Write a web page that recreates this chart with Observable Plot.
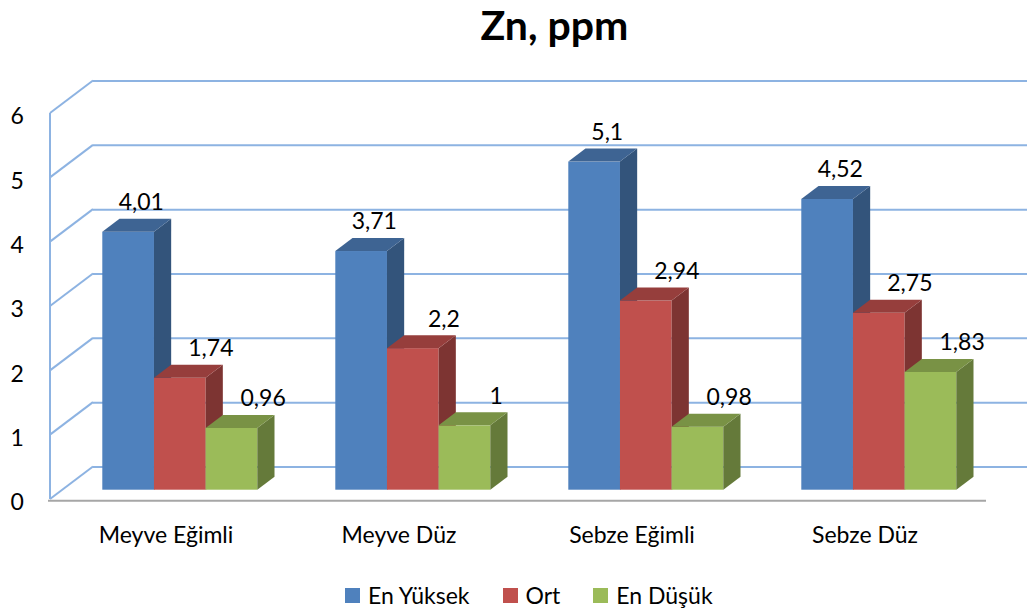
<!DOCTYPE html>
<html>
<head>
<meta charset="utf-8">
<script src="https://cdn.jsdelivr.net/npm/d3@7"></script>
<script src="https://cdn.jsdelivr.net/npm/@observablehq/plot@0.6"></script>
<style>
  html, body { margin: 0; padding: 0; background: #fff; }
  #chart { position: relative; width: 1028px; height: 613px; font-family: Lato, "Open Sans", sans-serif; color: #000; overflow: hidden; }
  #title { position: absolute; left: 0; top: 0; width: 1028px; padding-left: 81px; box-sizing: border-box; text-align: center; font-weight: 700; font-size: 41px; line-height: 50px; }
  #plot { position: absolute; left: 0; top: 62px; }
  #legend { position: absolute; left: 345px; top: 584px; display: flex; align-items: center; font-size: 23px; line-height: 23px; }
  .item { display: flex; align-items: center; margin-right: 33px; }
  .swatch { width: 15px; height: 15px; margin-right: 8px; }
</style>
</head>
<body>
<div id="chart">
  <div id="title">Zn, ppm</div>
  <div id="plot"></div>
  <div id="legend"></div>
</div>
<script>
// Zn (ppm) by field type: highest, mean and lowest values
const categories = ["Meyve Eğimli", "Meyve Düz", "Sebze Eğimli", "Sebze Düz"];
const series = ["En Yüksek", "Ort", "En Düşük"];
const enYuksek = [4.01, 3.71, 5.1, 4.52];
const ort = [1.74, 2.2, 2.94, 2.75];
const enDusuk = [0.96, 1, 0.98, 1.83];
const yTicks = [0, 1, 2, 3, 4, 5, 6];

const palette = ["#4F81BD", "#C0504D", "#9BBB59"];
const gridColor = "#8DB3E2";

const rows = [];
[enYuksek, ort, enDusuk].forEach((vals, j) =>
  vals.forEach((v, i) => rows.push({category: categories[i], series: series[j], j, value: v}))
);

const fmt = v => String(v).replace(".", ",");

// layout
const width = 1028, height = 490;
const marginLeft = 50, marginRight = 44, marginTop = 51, marginBottom = 53;
const paddingInner = 0.334, paddingOuter = 0.167;
const step = (width - marginLeft - marginRight) / (categories.length - paddingInner + 2 * paddingOuter);
const barWidth = step * (1 - paddingInner) / series.length;

// oblique projection offsets (pixels)
const wall = {dx: 43, dy: -32.5};   // depth of the back wall
const front = {dx: 12.3, dy: -9.3}; // front plane of the bars
const depth = {dx: 17.2, dy: -13};  // thickness of each bar
const labelShift = [12.8, 30.6, 31];

// draws each bar as a box: front face, right side and top
function boxes(index, scales, values) {
  const bw = scales.x.bandwidth() / series.length;
  const g = d3.create("svg:g");
  for (const i of index) {
    const d = rows[i];
    const c = values.fill ? values.fill[i] : palette[d.j];
    const x0 = values.x[i] + d.j * bw + front.dx;
    const x1 = x0 + bw;
    const yT = Math.min(values.y1[i], values.y2[i]) + front.dy;
    const yB = Math.max(values.y1[i], values.y2[i]) + front.dy;
    g.append("rect")
      .attr("x", x0).attr("y", yT).attr("width", bw).attr("height", yB - yT)
      .attr("fill", c);
    g.append("path")
      .attr("d", `M${x1},${yB}L${x1},${yT}L${x1 + depth.dx},${yT + depth.dy}L${x1 + depth.dx},${yB + depth.dy}Z`)
      .attr("fill", d3.color(c).darker(1.2).formatHex());
    g.append("path")
      .attr("d", `M${x0},${yT}L${x1},${yT}L${x1 + depth.dx},${yT + depth.dy}L${x0 + depth.dx},${yT + depth.dy}Z`)
      .attr("fill", d3.color(c).darker(0.7).formatHex());
  }
  return g.node();
}

// left side wall: diagonal gridlines and its front edge
function sideWall(index, scales, values, dimensions) {
  const x = dimensions.marginLeft;
  const g = d3.create("svg:g").attr("stroke", gridColor).attr("stroke-width", 2).attr("fill", "none");
  for (const i of index) {
    g.append("line")
      .attr("x1", x).attr("y1", values.y[i])
      .attr("x2", x + wall.dx).attr("y2", values.y[i] + wall.dy);
  }
  const ys = Array.from(index, i => values.y[i]);
  g.append("line").attr("x1", x).attr("x2", x).attr("y1", d3.min(ys)).attr("y2", d3.max(ys));
  return g.node();
}

const chart = Plot.plot({
  width, height, marginLeft, marginRight, marginTop, marginBottom,
  style: {fontFamily: "Lato, 'Open Sans', sans-serif", fontSize: "23px", color: "#000", background: "#fff", overflow: "visible"},
  x: {domain: categories, paddingInner, paddingOuter, align: 0.5, label: null},
  y: {domain: [0, 6], label: null},
  color: {domain: series, range: palette},
  marks: [
    // back wall gridlines
    Plot.ruleY(yTicks, {dx: wall.dx, dy: wall.dy, stroke: gridColor, strokeWidth: 2}),
    Plot.ruleY(yTicks, {y: d => d, render: sideWall}),
    // floor front edge
    Plot.ruleY([0], {stroke: "#A6A6A6", strokeWidth: 2, dy: 1.3, insetLeft: -2, insetRight: -2}),
    Plot.axisY(yTicks, {tickSize: 0, tickPadding: 26.7, dy: 3.5, tickFormat: d => String(d), label: null}),
    Plot.axisX({tickSize: 0, tickPadding: 27, dx: -2, label: null}),
    Plot.barY(rows, {x: "category", y1: 0, y2: "value", fill: "series", render: boxes}),
    ...series.map((s, j) =>
      Plot.text(rows.filter(d => d.j === j), {
        x: "category", y: "value", text: d => fmt(d.value),
        dx: (j - 1) * barWidth + front.dx + labelShift[j],
        dy: front.dy - 29.5,
        fill: "#000"
      })
    )
  ]
});
document.getElementById("plot").appendChild(chart);

// legend
const legend = d3.select("#legend");
series.forEach((s, j) => {
  const item = legend.append("div").attr("class", "item");
  item.append("div").attr("class", "swatch").style("background", palette[j]);
  item.append("span").text(s);
});
</script>
</body>
</html>
